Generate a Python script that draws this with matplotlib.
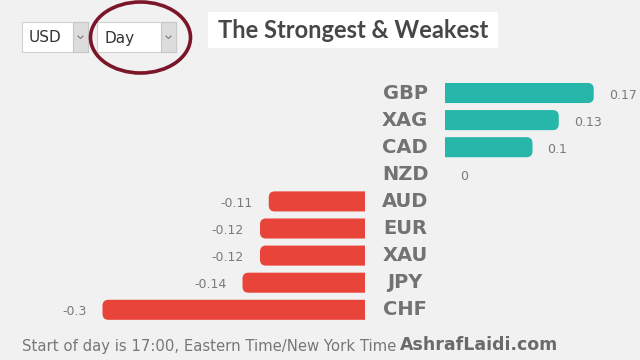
import matplotlib
matplotlib.use('Agg')
import matplotlib.pyplot as plt
import matplotlib.transforms as mtransforms
from matplotlib.patches import FancyBboxPatch, Rectangle, Ellipse

# data ------------------------------------------------------------------
currencies = ['GBP', 'XAG', 'CAD', 'NZD', 'AUD', 'EUR', 'XAU', 'JPY', 'CHF']
changes = [0.17, 0.13, 0.10, 0.0, -0.11, -0.12, -0.12, -0.14, -0.30]
value_labels = ['0.17', '0.13', '0.1', '0', '-0.11', '-0.12', '-0.12', '-0.14', '-0.3']
base_currency = 'USD'
period = 'Day'
title = 'The Strongest & Weakest'
note = 'Start of day is 17:00, Eastern Time/New York Time'
site = 'AshrafLaidi.com'

# layout (pixels) -------------------------------------------------------
W, H = 640, 360
PX = 875.0          # pixels per unit of change
ROW = 27.1          # row pitch
TOP = 93 - ROW / 2  # top of first row
NEG_RIGHT = 365     # zero line of negative bars
POS_LEFT = 445      # zero line of positive bars
BAR_H = 0.74
RND = 6.0           # corner radius px

BG = '#f1f1f1'
POS_C = '#27b7aa'
NEG_C = '#e8443a'

fig = plt.figure(figsize=(W / 100, H / 100), dpi=100, facecolor=BG)


def px_axes(x0, y0, w, h):
    return fig.add_axes([x0 / W, 1 - (y0 + h) / H, w / W, h / H])


# overlay for widgets / header / footer
ax_o = px_axes(0, 0, W, H)
ax_o.set_xlim(0, W)
ax_o.set_ylim(H, 0)
ax_o.axis('off')

n = len(currencies)
ax_l = px_axes(0, TOP, NEG_RIGHT, n * ROW)
ax_r = px_axes(POS_LEFT, TOP, W - POS_LEFT, n * ROW)
ax_l.set_xlim(-NEG_RIGHT / PX, 0)
ax_r.set_xlim(0, (W - POS_LEFT) / PX)
for ax in (ax_l, ax_r):
    ax.set_ylim(n - 0.5, -0.5)
    ax.axis('off')

r = RND / PX
asp = PX / ROW
for i, (cur, v, lab) in enumerate(zip(currencies, changes, value_labels)):
    if v > 0:
        ax, x0, w = ax_r, -r, v + r
    elif v < 0:
        ax, x0, w = ax_l, v, -v + r
    else:
        ax = None
    if ax is not None:
        p = FancyBboxPatch((x0, i - BAR_H / 2), w, BAR_H,
                           boxstyle=f"round,pad=0,rounding_size={r}",
                           mutation_aspect=asp, fc=POS_C if v > 0 else NEG_C,
                           ec='none')
        ax.add_patch(p)
    if v < 0:
        ax_l.annotate(lab, xy=(v, i), xytext=(-16, -2), textcoords='offset pixels',
                      ha='right', va='center', fontsize=9, color='#7a7a7a',
                      annotation_clip=False)
    else:
        ax_r.annotate(lab, xy=(v, i), xytext=(15, -2), textcoords='offset pixels',
                      ha='left', va='center', fontsize=9, color='#7a7a7a',
                      annotation_clip=False)

# currency names centred in the gap
trans = mtransforms.offset_copy(ax_r.get_yaxis_transform(), fig=fig,
                                x=-(POS_LEFT - NEG_RIGHT) / 2, y=0, units='dots')
for i, cur in enumerate(currencies):
    ax_r.text(0, i, cur, transform=trans, ha='center', va='center',
              fontsize=14, fontweight='heavy', color='#727272', clip_on=False)


# dropdown widgets
def dropdown(x, y, w, h, label):
    ax_o.add_patch(Rectangle((x, y), w, h, fc='white', ec='#d0d0d0', lw=0.8))
    ax_o.add_patch(Rectangle((x + w - 15, y), 15, h, fc='#dcdcdc', ec='#c8c8c8', lw=0.8))
    cx, cy = x + w - 7.5, y + h / 2
    ax_o.plot([cx - 2.5, cx, cx + 2.5], [cy - 1, cy + 1.5, cy - 1], color='#777777', lw=0.8)
    ax_o.text(x + 7, y + h / 2 + 1, label, ha='left', va='center', fontsize=11,
              color='#333333')


dropdown(22, 22, 66, 30, base_currency)
dropdown(97, 22, 79, 30, period)
ax_o.add_patch(Ellipse((140.5, 37.5), 100, 71, fc='none', ec='#7b1528', lw=2.6))

# title box
ax_o.add_patch(Rectangle((208, 12), 290, 36, fc='white', ec='none'))
ax_o.text(353, 31, title, ha='center', va='center', fontsize=17,
          fontweight='bold', color='#474747', family='Lato')

# footer
t = ax_o.text(22, 351, note, ha='left', va='baseline', fontsize=10.75,
              color='#777777')
ax_o.annotate(site, xy=(1, 0), xycoords=t, xytext=(4, 0), textcoords='offset pixels',
              ha='left', va='bottom', fontsize=12.5, fontweight='bold', color='#6a6a6a')

fig.savefig('out.png', dpi=100, facecolor=BG)
